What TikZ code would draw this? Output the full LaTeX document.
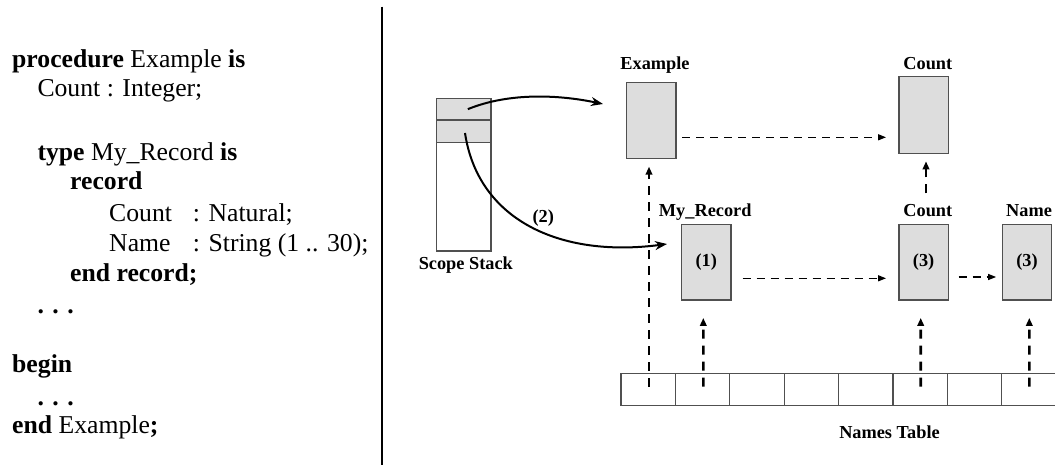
\documentclass[tikz,border=0pt]{standalone}
\usepackage{fontspec}
\setmainfont{Liberation Serif}
\usetikzlibrary{arrows.meta}
\definecolor{boxfill}{RGB}{221,221,221}
\definecolor{boxline}{RGB}{80,80,80}
\begin{document}
\begin{tikzpicture}[x=1pt,y=-1pt,
  code/.style={inner sep=0pt,anchor=base west,font=\fontsize{25.7}{30}\selectfont},
  lbl/.style={inner sep=0pt,anchor=base,font=\fontsize{18.3}{22}\selectfont\bfseries},
  rbox/.style={draw=boxline,fill=boxfill,line width=1.3pt,minimum width=49.3pt,inner sep=0pt,
     font=\fontsize{18.3}{22}\selectfont\bfseries},
  stackcell/.style={draw=boxline,line width=1.3pt,minimum width=54.3pt,inner sep=0pt},
  tabcell/.style={draw=boxline,line width=1.3pt,minimum width=54.4pt,minimum height=32.4pt,inner sep=0pt},
  curvearrow/.style={line width=2pt,-{Stealth[length=12pt,width=9pt]}},
  dh/.style={line width=1.3pt,dash pattern=on 8pt off 6pt,-{Triangle[length=8pt,width=6pt]}},
  dv/.style={line width=2.6pt,dash pattern=on 9pt off 7pt,-{Triangle[length=8pt,width=6.5pt]}},
  sep/.style={line width=2pt}]
\useasboundingbox (0,0) rectangle (1055,465);

% code listing
\node[code] (l1)  at (12,68)    {\textbf{procedure} Example \textbf{is}};
\node[code] (l2)  at (37.3,97)  {Count : Integer;};
\node[code] (l3)  at (37.3,161) {\textbf{type} My\_Record \textbf{is}};
\node[code] (l4)  at (70,190)   {\textbf{record}};
\node[code] (l5)  at (109,221.7){\makebox[83.7pt][l]{Count}: Natural;};
\node[code] (l6)  at (109,251.7){\makebox[83.7pt][l]{Name}: String (1 .. 30);};
\node[code] (l7)  at (70,281.7) {\textbf{end record;}};
\node[code] (l8)  at (37.3,313) {\textbf{. . .}};
\node[code] (l9)  at (12,372.7) {\textbf{begin}};
\node[code] (l10) at (37.3,405) {\textbf{. . .}};
\node[code] (l11) at (12,433)   {\textbf{end} Example\textbf{;}};

\coordinate (septop) at (382,6.7);
\coordinate (sepbot) at (382,465);
\draw[sep] (septop) -- (sepbot);

% scope stack
\node[stackcell,fill=boxfill,minimum height=21.7pt] (s1) at (463.85,109.15) {};
\node[stackcell,fill=boxfill,minimum height=22.3pt] (s2) at (463.85,131.15) {};
\node[stackcell,fill=white,minimum height=108.7pt] (s3) at (463.85,196.65) {};
\node[lbl] (sslbl) at (465.8,269.3) {Scope Stack};

% record boxes
\node[rbox,minimum height=76pt] (ex) at (651.35,120.3) {};
\node[rbox,minimum height=76.6pt] (ct) at (923.65,115) {};
\node[rbox,minimum height=75.7pt] (mr) at (706.2,262.15) {(1)};
\node[rbox,minimum height=75.7pt] (c3) at (923.65,262.15) {(3)};
\node[rbox,minimum height=75.7pt] (nm) at (1027,262.15) {(3)};

\node[lbl] (exlbl) at (655,69.3) {Example};
\node[lbl] (ctlbl) at (927.8,69.3) {Count};
\node[lbl] (mrlbl) at (705.2,216.5) {My\_Record};
\node[lbl] (c3lbl) at (927.8,216.5) {Count};
\node[lbl] (nmlbl) at (1029,216.5) {Name};

% names table
\foreach \i in {1,...,8} {
  \node[tabcell] (t\i) at ({621+27.2+54.4*(\i-1)},389.5) {};
}
\node[lbl] (ntlbl) at (889.5,438) {Names Table};

% solid curved arrows from the scope stack
\coordinate (a1) at (603,104);
\coordinate (a2) at (667,244);
\draw[curvearrow] ([xshift=4pt]s1.center) .. controls (510,92) and (560,95) .. (a1);
\draw[curvearrow] ([shift={(1.15,1.85)}]s2.center) .. controls (478,220) and (560,258) .. (a2);
\node[lbl,anchor=center] (two) at (543.3,218.3) {(2)};

% dashed horizontal links
\draw[dh] ([shift={(5.7,17)}]ex.east) -- ([shift={(-12.3,22.3)}]ct.west);
\draw[dh] ([shift={(11,16.15)}]mr.east) -- ([shift={(-12.3,16.15)}]c3.west);
\draw[dh] ([shift={(9.7,14.85)}]c3.east) -- ([shift={(-5.6,14.85)}]nm.west);

% dashed vertical links
\draw[dv] ([shift={(2.35,-30.3)}]c3.north) -- ([shift={(2.35,7.4)}]ct.south);
\draw[dv] ([shift={(0.8,-2.8)}]t1.center) -- ([shift={(-2.35,7.7)}]ex.south);
\draw[dv] ([shift={(0.7,-2.8)}]t2.center) -- ([shift={(-2.9,17.3)}]mr.south);
\draw[dv] ([shift={(0.5,-2.8)}]t6.center) -- ([shift={(-2.95,17.3)}]c3.south);
\draw[dv] ([shift={(0.3,-2.8)}]t8.center) -- ([shift={(2.3,17.3)}]nm.south);
\end{tikzpicture}
\end{document}
